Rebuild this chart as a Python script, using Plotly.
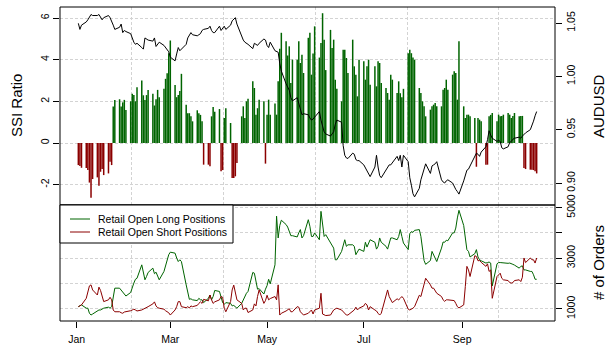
import pandas as pd
import plotly.graph_objects as go

# ---------------- data (one value per trading day, Jan 2 - Oct 18, 2013) ----------------
dates = pd.bdate_range("2013-01-02", "2013-10-18")

ssi_ratio = [
    -1.06, -1.1, -1.19,
    -1.2, -1.3, -1.9, -2.63, -1.73,
    -1.65, -2.05, -1.38, -1.25, -1.54,
    -1.46, -0.9, -1.06, 1.75, 2.07,
    2.1, 1.75, 1.95, 2.07, 1.59,
    2.0, 2.36, 2.3, 2.0, 2.68,
    3.0, 2.29, 2.07, 2.3, 2.55,
    2.36, 1.8, 2.1, 2.55, 2.2,
    2.6, 3.08, 3.35, 4.31, 4.92,
    2.79, 2.2, 2.3, 2.5, 3.32,
    1.84, 1.43, 1.43, 1.28, 1.04,
    1.57, 1.43, 1.35, 1.04, -1.04,
    -1.04, -1.12, 1.28, 1.73, 1.5,
    1.63, -1.36, -1.3, 1.2, 1.67,
    0.96, -1.68, -1.68, -1.6, -0.96,
    1.28, 1.76, 1.2, 2.0, 2.13,
    2.96, 2.64, 1.36, 1.67, 2.08,
    2.0, -0.99, 1.36, 2.08, 1.36,
    1.9, 1.36, 2.96, 4.52, 5.29,
    4.89, 4.2, 4.64, 2.88, 4.0,
    4.0, 4.89, 3.84, 4.24, 3.36,
    5.05, 5.29, 3.28, 4.3, 5.6,
    4.1, 4.8, 6.23, 4.96, 3.5,
    5.43, 4.56, 4.96, 3.04, 2.6,
    2.0, 4.48, 4.48, 4.08, 3.36,
    4.96, 3.68, 3.28, 2.24, 4.0,
    3.92, 3.04, 3.68, 4.0, 2.8,
    3.68, 2.72, 3.92, 3.84, 2.88,
    2.64, 2.4, 2.08, 3.28, 3.04,
    2.4, 2.96, 2.39, 2.2, 2.6,
    4.31, 4.48, 4.31, 4.1, 4.0,
    2.64, 2.4, 2.0, 1.76, 1.28,
    1.6, 1.76, 1.84, 1.92, 1.76,
    1.76, 2.56, 2.64, 3.04, 2.56,
    3.28, 3.44, 3.36, 2.08, 4.88,
    1.76, 1.2, 1.36, 1.36, 1.28,
    1.2, -1.14, 1.2, 1.12, 1.04,
    -1.04, -1.04, 1.28, 1.35, 1.44,
    1.04, 1.36, 1.28, 1.3, 1.36,
    1.44, 1.36, 1.2, 1.3, 1.44,
    1.28, 1.3, 1.3, -1.2, -1.25,
    -1.28, -1.28, -1.3, -1.35, -1.46,
]

audusd = [
    1.0497, 1.044, 1.048,
    1.051, 1.053, 1.056, 1.058, 1.057,
    1.057, 1.058, 1.055, 1.053, 1.055,
    1.057, 1.055, 1.052, 1.048, 1.044,
    1.046, 1.049, 1.041, 1.043, 1.042,
    1.040, 1.035, 1.032, 1.030, 1.031,
    1.027, 1.0255, 1.036, 1.035, 1.034,
    1.033, 1.036, 1.028, 1.030, 1.032,
    1.029, 1.027, 1.025, 1.023, 1.018,
    1.0145, 1.021, 1.027, 1.024, 1.0255,
    1.030, 1.036, 1.038, 1.041, 1.039,
    1.038, 1.039, 1.040, 1.043, 1.044,
    1.045, 1.047, 1.043, 1.041, 1.041,
    1.047, 1.043, 1.045, 1.047, 1.044,
    1.048, 1.052, 1.054, 1.055, 1.049,
    1.037, 1.034, 1.032, 1.031, 1.030,
    1.026, 1.031, 1.030, 1.029, 1.031,
    1.035, 1.034, 1.029, 1.027, 1.032,
    1.024, 1.023, 1.0226, 1.012, 1.005,
    0.993, 0.990, 0.987, 0.980, 0.977,
    0.980, 0.974, 0.968, 0.964, 0.965,
    0.964, 0.961, 0.959, 0.960, 0.962,
    0.967, 0.959, 0.952, 0.948, 0.946,
    0.944, 0.946, 0.948, 0.955, 0.959,
    0.957, 0.935, 0.926, 0.9235, 0.923,
    0.928, 0.927, 0.922, 0.921, 0.921,
    0.917, 0.914, 0.912, 0.909, 0.906,
    0.915, 0.926, 0.915, 0.907, 0.905,
    0.912, 0.915, 0.917, 0.917, 0.919,
    0.925, 0.921, 0.926, 0.915, 0.926,
    0.920, 0.905, 0.898, 0.890, 0.887,
    0.895, 0.903, 0.908, 0.914, 0.918,
    0.909, 0.916, 0.917, 0.918, 0.920,
    0.903, 0.901, 0.900, 0.902, 0.903,
    0.900, 0.8965, 0.894, 0.892, 0.8896,
    0.902, 0.908, 0.912, 0.913, 0.916,
    0.924, 0.928, 0.927, 0.925, 0.929,
    0.934, 0.9406, 0.949, 0.945, 0.942,
    0.939, 0.940, 0.939, 0.933, 0.932,
    0.934, 0.938, 0.939, 0.941, 0.942,
    0.943, 0.942, 0.944, 0.946, 0.947,
    0.950, 0.9537, 0.958, 0.963, 0.967,
]

long_orders = [
    1090, 1120, 1160,
    1030, 1030, 830, 760, 800,
    930, 960, 960, 1000, 1030,
    1070, 1030, 1090, 1420, 1820,
    1820, 1750, 1690, 1620, 1510,
    1650, 1860, 2020, 2170, 2210,
    2740, 2410, 2150, 2280, 2440,
    2610, 2390, 2450, 2310, 2150,
    2480, 2740, 2940, 3140, 3240,
    3200, 3010, 2870, 2940, 2870,
    1950, 1690, 1380, 1400, 1360,
    1330, 1420, 1360, 1360, 1250,
    1420, 1550, 1360, 1490, 1730,
    1690, 1420, 1250, 1180, 1250,
    1220, 1120, 1140, 1090, 1030,
    1220, 1360, 1490, 1620, 1690,
    2440, 2410, 2150, 1780, 1800,
    1590, 1780, 1920, 2170, 1990,
    2740, 4660, 3800, 4290, 4500,
    4330, 4230, 4020, 3890, 3890,
    3840, 4000, 4130, 3800, 3890,
    4520, 4260, 3860, 3860, 4000,
    3730, 4850, 4260, 3860, 3930,
    3600, 3470, 3400, 2940, 2940,
    3270, 3530, 3730, 3470, 3530,
    3530, 3470, 3140, 3270, 3360,
    3270, 3630, 3440, 3600, 3730,
    3630, 3360, 3470, 3800, 3630,
    3470, 3360, 3600, 3800, 3800,
    3730, 3860, 4130, 3860, 3600,
    3340, 3970, 4050, 4020, 4100,
    4130, 3860, 3470, 2910, 2760,
    2910, 3270, 3140, 3010, 2870,
    3400, 3640, 3630, 3710, 3690,
    4000, 4000, 4190, 4590, 4890,
    4290, 3670, 3340, 3270, 3050,
    3180, 3340, 3050, 2940, 2900,
    2810, 2830, 2850, 2810, 1910,
    2780, 2830, 2830, 2820, 2810,
    2800, 2810, 2770, 2760, 2730,
    2610, 2680, 2700, 2540, 2540,
    2480, 2480, 2350, 2170, 2170,
]

short_orders = [
    1090, 1120, 1160,
    1420, 1650, 1910, 1950, 1750,
    1550, 1860, 1730, 1510, 1290,
    1360, 1460, 1360, 960, 890,
    890, 850, 830, 880, 890,
    930, 960, 990, 960, 920,
    960, 1000, 1030, 1070, 1090,
    1200, 1280, 1120, 1050, 1030,
    990, 930, 880, 850, 760,
    960, 1090, 1290, 1290, 1090,
    1050, 1090, 1040, 1120, 1090,
    1140, 1220, 1280, 1220, 1380,
    1320, 1550, 1360, 1220, 1280,
    1360, 1490, 1460, 1030, 890,
    1290, 1750, 1940, 1620, 1360,
    1220, 960, 1030, 1030, 860,
    960, 1200, 1120, 1490, 1750,
    1220, 1330, 1540, 1360, 1410,
    1490, 1360, 1950, 760, 830,
    920, 960, 1010, 890, 890,
    1090, 1070, 890, 830, 760,
    830, 890, 960, 800, 960,
    1030, 1620, 800, 760, 740,
    760, 880, 960, 1000, 1030,
    960, 890, 830, 760, 760,
    930, 960, 1070, 960, 1030,
    1120, 1220, 1160, 960, 1090,
    960, 920, 830, 760, 830,
    1550, 1750, 1490, 1330, 1250,
    1400, 1360, 1420, 1490, 1420,
    990, 960, 990, 1030, 1090,
    1540, 1490, 1750, 1950, 2210,
    1950, 1820, 1820, 1690, 1620,
    1490, 1360, 1300, 1360, 1360,
    1330, 1330, 1220, 1090, 1040,
    1160, 1880, 2680, 2540, 2280,
    3100, 3070, 2900, 2910, 2840,
    2680, 2780, 2480, 2540, 1420,
    2280, 2350, 2410, 2210, 2150,
    2120, 2040, 2020, 2040, 2120,
    2150, 2080, 2250, 3010, 2830,
    3010, 2940, 2940, 2810, 3010,
]

for arr in (ssi_ratio, audusd, long_orders, short_orders):
    assert len(arr) == len(dates), len(arr)

month_ticks = ["2013-01-01", "2013-03-01", "2013-05-01", "2013-07-01", "2013-09-01"]
month_labels = ["Jan", "Mar", "May", "Jul", "Sep"]
grid_epoch_seconds = [1.360e9, 1.365e9, 1.370e9, 1.375e9, 1.380e9]
ssi_ticks = [-2, 0, 2, 4, 6]
ssi_labels = ["-2", "0", "2", "4", "6"]
fx_ticks = [0.90, 0.95, 1.00, 1.05]
fx_labels = ["0.90", "0.95", "1.00", "1.05"]
order_ticks = [1000, 2000, 3000, 4000, 5000]
order_labels = ["1000", "", "3000", "", "5000"]
series_names = ["Retail Open Long Positions", "Retail Open Short Positions"]

GREEN = "#006400"
RED = "#8B0000"
GRID = "#d3d3d3"
FONT = "Liberation Sans, Arial, Helvetica, sans-serif"

grid_dates = [d.strftime("%Y-%m-%d %H:%M:%S") for d in pd.to_datetime(grid_epoch_seconds, unit="s")]


def spikes(positive):
    xs, ys = [], []
    for d, v in zip(dates, ssi_ratio):
        if (v > 0) == positive:
            xs += [d, d, None]
            ys += [0, v, None]
    return xs, ys


gx, gy = spikes(True)
rx, ry = spikes(False)

fig = go.Figure()
fig.add_trace(go.Scatter(x=gx, y=gy, mode="lines", line=dict(color=GREEN, width=1.5),
                         xaxis="x", yaxis="y", showlegend=False, hoverinfo="skip"))
fig.add_trace(go.Scatter(x=rx, y=ry, mode="lines", line=dict(color=RED, width=1.5),
                         xaxis="x", yaxis="y", showlegend=False, hoverinfo="skip"))
fig.add_trace(go.Scatter(x=dates, y=audusd, mode="lines", line=dict(color="black", width=1),
                         xaxis="x", yaxis="y2", showlegend=False, name="AUDUSD"))
fig.add_trace(go.Scatter(x=dates, y=long_orders, mode="lines", line=dict(color=GREEN, width=1),
                         xaxis="x", yaxis="y3", name=series_names[0], showlegend=False))
fig.add_trace(go.Scatter(x=dates, y=short_orders, mode="lines", line=dict(color=RED, width=1),
                         xaxis="x", yaxis="y3", name=series_names[1], showlegend=False))

PLOT_W, PLOT_H = 495, 314
D = 116 / PLOT_H  # bottom panel share of the plot height


def px_x(px):  # pixel column -> paper x
    return (px - 60) / PLOT_W


def px_y(py):  # pixel row -> paper y
    return (321 - py) / PLOT_H


tick_common = dict(ticks="outside", ticklen=6, tickwidth=1, tickcolor="black",
                   zeroline=False, showline=False, automargin=False,
                   tickfont=dict(family=FONT, size=10.5, color="black"))

shapes = [
    dict(type="rect", xref="paper", yref="paper", x0=0, x1=1, y0=D, y1=1,
         line=dict(color="black", width=1), layer="above"),
    dict(type="rect", xref="paper", yref="paper", x0=0, x1=1, y0=0, y1=D,
         line=dict(color="black", width=1), layer="above"),
    # legend box
    dict(type="rect", xref="paper", yref="paper", x0=0, x1=px_x(233), y0=px_y(243), y1=D,
         line=dict(color="black", width=1), fillcolor="white", layer="above"),
]
annotations = [
    dict(text="SSI Ratio", xref="paper", yref="paper", x=px_x(16), y=(1 + D) / 2,
         textangle=-90, showarrow=False, xanchor="center", yanchor="middle",
         font=dict(family=FONT, size=15, color="black")),
    dict(text="AUDUSD", xref="paper", yref="paper", x=px_x(598), y=(1 + D) / 2,
         textangle=-90, showarrow=False, xanchor="center", yanchor="middle",
         font=dict(family=FONT, size=15, color="black")),
    dict(text="# of Orders", xref="paper", yref="paper", x=px_x(598), y=D / 2,
         textangle=-90, showarrow=False, xanchor="center", yanchor="middle",
         font=dict(family=FONT, size=15, color="black")),
]
for row_y, name, col in zip([219, 232], series_names, [GREEN, RED]):
    shapes.append(dict(type="line", xref="paper", yref="paper", x0=px_x(70), x1=px_x(90),
                       y0=px_y(row_y), y1=px_y(row_y), line=dict(color=col, width=1), layer="above"))
    annotations.append(dict(text=name, xref="paper", yref="paper", x=px_x(96), y=px_y(row_y),
                            xanchor="left", yanchor="middle", showarrow=False,
                            font=dict(family=FONT, size=10.5, color="black")))

fig.update_layout(
    width=607, height=352,
    margin=dict(l=60, r=52, t=7, b=31, autoexpand=False),
    paper_bgcolor="white", plot_bgcolor="white",
    font=dict(family=FONT, size=10.5, color="black"),
    showlegend=False,
    xaxis=dict(type="date", range=["2012-12-21 10:34", "2013-10-29 13:26"], anchor="y3",
               domain=[0, 1], tickmode="array", tickvals=month_ticks, ticktext=month_labels,
               showgrid=False, ticklabelstandoff=2,
               minor=dict(tickmode="array", tickvals=grid_dates, showgrid=True, gridcolor=GRID,
                          griddash="3px,2px", gridwidth=1, ticks=""),
               **tick_common),
    yaxis=dict(domain=[D, 1], range=[-2.976, 6.528], anchor="x", side="left",
               tickmode="array", tickvals=ssi_ticks, ticktext=ssi_labels, tickangle=-90,
               showgrid=True, gridcolor=GRID, griddash="3px,2px", gridwidth=1, **tick_common),
    yaxis2=dict(overlaying="y", side="right", anchor="x", range=[0.8794, 1.065],
                tickmode="array", tickvals=fx_ticks, ticktext=fx_labels, tickangle=-90,
                showgrid=False, **tick_common),
    yaxis3=dict(domain=[0, D], anchor="x", side="right", range=[525, 5100],
                tickmode="array", tickvals=order_ticks, ticktext=order_labels, tickangle=-90,
                showgrid=True, gridcolor=GRID, griddash="3px,2px", gridwidth=1, **tick_common),
    shapes=shapes,
    annotations=annotations,
)

fig.write_html("out.html")
